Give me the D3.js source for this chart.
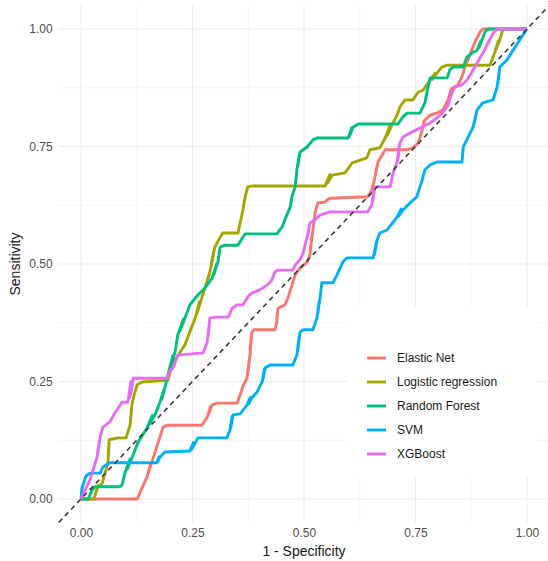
<!DOCTYPE html>
<html lang="en">
<head>
    <meta charset="UTF-8">
    <title>ROC curves</title>
    <script src="https://d3js.org/d3.v7.min.js"></script>
    <style>
        body { margin: 0; background: #fff; }
        text { font-family: "Liberation Sans", Arial, sans-serif; }
        .tick-label { font-size: 12px; fill: #4d4d4d; }
        .axis-title { font-size: 14px; fill: #1a1a1a; }
        .legend-label { font-size: 12px; fill: #1a1a1a; }
    </style>
</head>
<body>
    <div id="chart"></div>

    <script>
        // Models, in legend order
        const models = ["Elastic Net", "Logistic regression", "Random Forest", "SVM", "XGBoost"];
        const colors = ["#F8766D", "#A3A500", "#00BF7D", "#00B0F6", "#E76BF3"];

        const tickValues = [0, 0.25, 0.5, 0.75, 1];
        const minorValues = [0.125, 0.375, 0.625, 0.875];

        // ROC points [1 - specificity, sensitivity]
        // (the small back-steps are the jagged bits visible on the curves)
        const elasticNet = [[0,0],[0.016,0],[0.126,0],[0.132,0.013],[0.148,0.047],[0.156,0.074],[0.151,0.055],[0.159,0.079],
            [0.17,0.111],[0.184,0.153],[0.193,0.157],[0.271,0.157],[0.283,0.174],[0.29,0.196],[0.285,0.178],[0.294,0.2],
            [0.305,0.204],[0.35,0.204],[0.356,0.219],[0.363,0.24],[0.372,0.257],[0.377,0.295],[0.374,0.268],[0.379,0.306],
            [0.382,0.345],[0.379,0.318],[0.383,0.355],[0.388,0.36],[0.435,0.36],[0.439,0.377],[0.441,0.4],[0.439,0.383],
            [0.442,0.406],[0.457,0.413],[0.464,0.428],[0.473,0.455],[0.48,0.477],[0.491,0.491],[0.507,0.504],[0.513,0.519],
            [0.518,0.56],[0.514,0.53],[0.52,0.572],[0.524,0.6],[0.521,0.58],[0.525,0.609],[0.531,0.63],[0.547,0.632],
            [0.558,0.64],[0.643,0.643],[0.652,0.657],[0.659,0.685],[0.664,0.71],[0.66,0.69],[0.666,0.717],[0.675,0.732],
            [0.682,0.743],[0.731,0.743],[0.744,0.747],[0.756,0.757],[0.765,0.785],[0.769,0.804],[0.766,0.79],[0.771,0.806],
            [0.783,0.817],[0.798,0.821],[0.812,0.828],[0.823,0.849],[0.83,0.872],[0.826,0.855],[0.832,0.874],[0.845,0.881],
            [0.854,0.898],[0.861,0.919],[0.872,0.945],[0.883,0.972],[0.895,0.994],[0.901,1],[1,1]];

        const logistic = [[0,0],[0.029,0],[0.038,0.028],[0.047,0.032],[0.056,0.062],[0.061,0.083],[0.063,0.118],[0.061,0.09],
            [0.063,0.126],[0.083,0.13],[0.101,0.13],[0.11,0.157],[0.113,0.19],[0.111,0.165],[0.114,0.2],[0.119,0.221],
            [0.126,0.243],[0.137,0.249],[0.195,0.253],[0.204,0.285],[0.233,0.328],[0.256,0.385],[0.266,0.42],[0.26,0.395],
            [0.271,0.428],[0.289,0.483],[0.297,0.525],[0.292,0.495],[0.3,0.536],[0.312,0.557],[0.318,0.566],[0.352,0.566],
            [0.363,0.615],[0.367,0.638],[0.364,0.622],[0.368,0.643],[0.374,0.664],[0.383,0.666],[0.547,0.666],[0.558,0.69],
            [0.553,0.672],[0.563,0.689],[0.592,0.694],[0.608,0.715],[0.641,0.726],[0.648,0.743],[0.67,0.747],[0.682,0.768],
            [0.693,0.795],[0.687,0.774],[0.697,0.796],[0.709,0.817],[0.715,0.834],[0.726,0.849],[0.744,0.849],[0.756,0.866],
            [0.767,0.87],[0.783,0.891],[0.794,0.906],[0.788,0.893],[0.798,0.906],[0.809,0.919],[0.821,0.923],[0.917,0.923],
            [0.928,0.951],[0.936,0.975],[0.931,0.958],[0.939,0.977],[0.946,1],[1,1]];

        const randomForest = [[0,0],[0.016,0],[0.025,0.019],[0.031,0.026],[0.087,0.026],[0.092,0.03],[0.099,0.057],[0.11,0.085],
            [0.104,0.064],[0.114,0.087],[0.128,0.121],[0.148,0.151],[0.16,0.178],[0.153,0.158],[0.166,0.179],[0.177,0.206],
            [0.186,0.233],[0.181,0.212],[0.188,0.236],[0.195,0.264],[0.206,0.305],[0.199,0.275],[0.211,0.313],[0.217,0.349],
            [0.23,0.383],[0.222,0.358],[0.233,0.385],[0.244,0.413],[0.262,0.434],[0.278,0.449],[0.294,0.47],[0.304,0.5],
            [0.298,0.478],[0.307,0.504],[0.312,0.536],[0.323,0.54],[0.352,0.54],[0.363,0.557],[0.368,0.564],[0.439,0.564],
            [0.451,0.579],[0.457,0.594],[0.469,0.621],[0.472,0.64],[0.47,0.625],[0.473,0.643],[0.48,0.664],[0.484,0.7],
            [0.489,0.73],[0.486,0.708],[0.491,0.738],[0.507,0.749],[0.52,0.764],[0.529,0.768],[0.599,0.768],[0.607,0.79],
            [0.602,0.772],[0.61,0.791],[0.621,0.798],[0.711,0.798],[0.722,0.813],[0.731,0.821],[0.76,0.821],[0.771,0.843],
            [0.777,0.872],[0.773,0.85],[0.778,0.877],[0.783,0.896],[0.821,0.896],[0.827,0.913],[0.834,0.919],[0.857,0.919],
            [0.865,0.94],[0.877,0.949],[0.888,0.955],[0.897,0.975],[0.892,0.96],[0.899,0.977],[0.906,0.994],[0.913,1],[1,1]];

        const svm = [[0,0],[0.002,0.023],[0.011,0.049],[0.02,0.055],[0.043,0.055],[0.049,0.068],[0.065,0.077],[0.17,0.077],
            [0.175,0.09],[0.172,0.079],[0.177,0.089],[0.188,0.1],[0.244,0.102],[0.252,0.12],[0.248,0.105],[0.256,0.119],
            [0.262,0.13],[0.327,0.13],[0.334,0.147],[0.339,0.176],[0.336,0.152],[0.341,0.179],[0.357,0.181],[0.372,0.2],
            [0.38,0.216],[0.376,0.202],[0.383,0.215],[0.395,0.228],[0.406,0.249],[0.411,0.276],[0.408,0.255],[0.413,0.279],
            [0.424,0.285],[0.475,0.285],[0.484,0.306],[0.489,0.345],[0.486,0.315],[0.491,0.355],[0.498,0.36],[0.52,0.36],
            [0.529,0.385],[0.534,0.42],[0.531,0.395],[0.536,0.428],[0.54,0.46],[0.565,0.46],[0.574,0.477],[0.581,0.491],
            [0.587,0.504],[0.596,0.513],[0.655,0.513],[0.662,0.545],[0.658,0.52],[0.664,0.551],[0.67,0.566],[0.686,0.572],
            [0.709,0.6],[0.718,0.617],[0.713,0.603],[0.722,0.615],[0.738,0.63],[0.753,0.643],[0.765,0.679],[0.771,0.7],
            [0.783,0.711],[0.798,0.717],[0.854,0.717],[0.857,0.745],[0.855,0.725],[0.857,0.749],[0.865,0.764],[0.879,0.791],
            [0.886,0.82],[0.882,0.8],[0.888,0.828],[0.901,0.843],[0.924,0.849],[0.933,0.877],[0.938,0.91],[0.935,0.885],
            [0.939,0.919],[0.955,0.934],[0.969,0.955],[0.984,0.977],[1,1]];

        const xgboost = [[0,0],[0.009,0.019],[0.02,0.04],[0.036,0.089],[0.041,0.125],[0.038,0.1],[0.043,0.132],[0.049,0.153],
            [0.065,0.164],[0.076,0.183],[0.092,0.206],[0.105,0.206],[0.112,0.25],[0.109,0.215],[0.114,0.236],[0.117,0.257],
            [0.193,0.257],[0.2,0.274],[0.206,0.279],[0.217,0.306],[0.274,0.311],[0.283,0.334],[0.288,0.375],[0.285,0.345],
            [0.289,0.385],[0.3,0.387],[0.33,0.387],[0.339,0.406],[0.35,0.413],[0.363,0.413],[0.374,0.43],[0.383,0.438],
            [0.401,0.445],[0.417,0.455],[0.428,0.466],[0.435,0.483],[0.442,0.487],[0.475,0.487],[0.48,0.498],[0.491,0.509],
            [0.498,0.523],[0.507,0.557],[0.512,0.58],[0.509,0.562],[0.513,0.587],[0.525,0.594],[0.536,0.604],[0.558,0.611],
            [0.643,0.611],[0.652,0.626],[0.658,0.66],[0.654,0.633],[0.659,0.664],[0.693,0.664],[0.7,0.694],[0.709,0.717],
            [0.713,0.75],[0.711,0.725],[0.715,0.757],[0.722,0.77],[0.738,0.779],[0.76,0.789],[0.783,0.8],[0.798,0.811],
            [0.812,0.823],[0.823,0.838],[0.832,0.866],[0.839,0.877],[0.854,0.881],[0.865,0.891],[0.877,0.909],[0.901,0.949],
            [0.924,0.991],[0.933,1],[1,1]];

        const curves = [elasticNet, logistic, randomForest, svm, xgboost];

        // Panel position inside the 548x561 window
        const width = 548, height = 561;
        const x = d3.scaleLinear().domain([-0.05, 1.05]).range([58.7, 549.3]);
        const y = d3.scaleLinear().domain([-0.05, 1.05]).range([522.5, 5.5]);

        const svg = d3.select("#chart")
                      .append("svg")
                      .attr("width", width)
                      .attr("height", height);

        // Grid lines (minor, then major)
        const grid = svg.append("g");
        grid.selectAll(".vminor").data(minorValues).enter().append("line")
            .attr("x1", d => x(d)).attr("x2", d => x(d))
            .attr("y1", y(-0.05)).attr("y2", y(1.05))
            .attr("stroke", "#f0f0f0").attr("stroke-width", 0.7);
        grid.selectAll(".hminor").data(minorValues).enter().append("line")
            .attr("x1", x(-0.05)).attr("x2", x(1.05))
            .attr("y1", d => y(d)).attr("y2", d => y(d))
            .attr("stroke", "#f0f0f0").attr("stroke-width", 0.7);
        grid.selectAll(".vmajor").data(tickValues).enter().append("line")
            .attr("x1", d => x(d)).attr("x2", d => x(d))
            .attr("y1", y(-0.05)).attr("y2", y(1.05))
            .attr("stroke", "#ebebeb").attr("stroke-width", 1.1);
        grid.selectAll(".hmajor").data(tickValues).enter().append("line")
            .attr("x1", x(-0.05)).attr("x2", x(1.05))
            .attr("y1", d => y(d)).attr("y2", d => y(d))
            .attr("stroke", "#ebebeb").attr("stroke-width", 1.1);

        // Axes: labels only, no domain or tick marks
        const xAxis = svg.append("g")
            .attr("transform", `translate(0, ${y(-0.05)})`)
            .call(d3.axisBottom(x).tickValues(tickValues).tickFormat(d3.format(".2f")).tickSize(0).tickPadding(6));
        const yAxis = svg.append("g")
            .attr("transform", `translate(${x(-0.05)}, 0)`)
            .call(d3.axisLeft(y).tickValues(tickValues).tickFormat(d3.format(".2f")).tickSize(0).tickPadding(6));
        [xAxis, yAxis].forEach(a => {
            a.select(".domain").remove();
            a.selectAll("text").attr("class", "tick-label").attr("font-family", null).attr("font-size", null).attr("fill", null);
        });

        // ROC curves
        const line = d3.line().x(d => x(d[0])).y(d => y(d[1]));
        svg.append("g").selectAll("path")
           .data(curves)
           .enter()
           .append("path")
           .attr("d", line)
           .attr("fill", "none")
           .attr("stroke", (d, i) => colors[i])
           .attr("stroke-width", 2.9)
           .attr("stroke-linejoin", "round");

        // Chance line
        svg.append("line")
           .attr("x1", x(-0.05)).attr("y1", y(-0.05))
           .attr("x2", x(1.05)).attr("y2", y(1.05))
           .attr("stroke", "#3a3a3a")
           .attr("stroke-width", 1.6)
           .attr("stroke-dasharray", "5,4");

        // Legend (inside the panel, white background)
        const legend = svg.append("g");
        legend.append("rect")
              .attr("x", 347).attr("y", 307)
              .attr("width", 190).attr("height", 170)
              .attr("fill", "#fff");
        const items = legend.selectAll(".item")
              .data(models)
              .enter()
              .append("g")
              .attr("transform", (d, i) => `translate(367, ${358 + i * 24})`);
        items.append("line")
             .attr("x1", 0).attr("x2", 19)
             .attr("stroke", (d, i) => colors[i])
             .attr("stroke-width", 2.9);
        items.append("text")
             .attr("class", "legend-label")
             .attr("x", 30)
             .attr("dy", "0.35em")
             .text(d => d);

        // Axis titles
        svg.append("text")
           .attr("class", "axis-title")
           .attr("x", x(0.5))
           .attr("y", 556)
           .style("text-anchor", "middle")
           .text("1 - Specificity");

        svg.append("text")
           .attr("class", "axis-title")
           .attr("transform", `translate(20, ${y(0.5)}) rotate(-90)`)
           .style("text-anchor", "middle")
           .text("Sensitivity");
    </script>
</body>
</html>
